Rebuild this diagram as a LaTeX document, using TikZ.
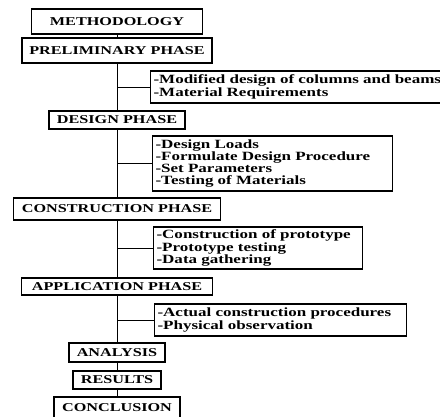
\documentclass[tikz,border=0pt]{standalone}
\usepackage{fontspec}
\setmainfont{Liberation Serif}[FakeStretch=1.35]

\begin{document}
\begin{tikzpicture}[x=1pt,y=-1pt,
    phase/.style={draw,line width=1.1pt,inner sep=0pt,minimum width=#1,
      font=\fontsize{12}{12.3}\selectfont\bfseries},
    items/.style={draw,line width=1.1pt,anchor=west,align=left,inner xsep=3pt,
      inner ysep=0pt,text width=#1,font=\fontsize{12.6}{12.3}\selectfont\bfseries},
    link/.style={line width=0.8pt}]
  \useasboundingbox (0,0) rectangle (440,416);
  % main column
  \node[phase=171pt,minimum height=25pt] (meth) at (117,21.5) {METHODOLOGY};
  \node[phase=190pt,minimum height=25pt] (prelim) at (117,50.5) {PRELIMINARY PHASE};
  \node[phase=136pt,minimum height=18pt] (design) at (117,120) {DESIGN PHASE};
  \node[phase=207pt,minimum height=22pt] (constr) at (117,209) {CONSTRUCTION PHASE};
  \node[phase=191pt,minimum height=17pt] (appl) at (117,286.5) {APPLICATION PHASE};
  \node[phase=96pt,minimum height=19pt] (anal) at (117,352.5) {ANALYSIS};
  \node[phase=88pt,minimum height=18pt] (res) at (117,380) {RESULTS};
  \node[phase=126pt,minimum height=22pt] (concl) at (117,408) {CONCLUSION};
  % side boxes
  \node[items=294pt,minimum height=32pt] (prelimlist) at (150,87)
    {-Modified design of columns and beams\\-Material Requirements};
  \node[items=234pt,minimum height=55pt] (designlist) at (152,163.5)
    {-Design Loads\\-Formulate Design Procedure\\-Set Parameters\\-Testing of Materials};
  \node[items=203pt,minimum height=42pt] (constrlist) at (153,248)
    {-Construction of prototype\\-Prototype testing\\-Data gathering};
  \node[items=246pt,minimum height=32pt] (appllist) at (154,320)
    {-Actual construction procedures\\-Physical observation};
  % connectors
  \draw[link] (meth) -- (prelim);
  \draw[link] (prelim) -- (design);
  \draw[link] (design) -- (constr);
  \draw[link] (constr) -- (appl);
  \draw[link] (appl) -- (anal);
  \draw[link] (anal) -- (res);
  \draw[link] (res) -- (concl);
  \draw[link] (prelimlist.west) -- (prelimlist.west -| prelim);
  \draw[link] (designlist.west) -- (designlist.west -| design);
  \draw[link] (constrlist.west) -- (constrlist.west -| constr);
  \draw[link] (appllist.west) -- (appllist.west -| appl);
\end{tikzpicture}
\end{document}
